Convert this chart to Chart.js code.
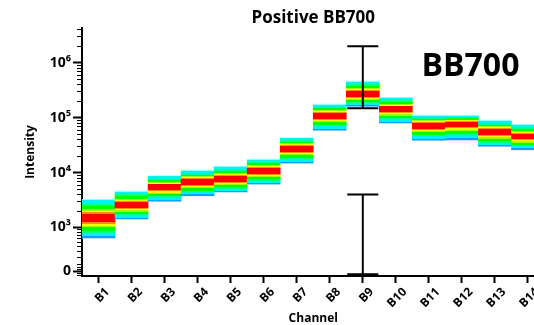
<!DOCTYPE html>
<html>
<head>
<meta charset="utf-8">
<script src="https://cdn.jsdelivr.net/npm/chart.js@4.4.1/dist/chart.umd.min.js"></script>
<style>
  html, body { margin: 0; padding: 0; overflow: hidden; background: #fff; }
  canvas { display: block; }
</style>
</head>
<body>
<canvas id="chart" width="546" height="325" style="width:546px;height:325px"></canvas>
<script>
// Detector channels
const channels = ['B1', 'B2', 'B3', 'B4', 'B5', 'B6', 'B7', 'B8', 'B9', 'B10', 'B11', 'B12', 'B13', 'B14'];

// Spread of the positive population per channel (lower edge, upper edge, density peak)
const bandLow  = [600, 1400, 2950, 3750, 4400, 6100, 14700, 58000, 158000, 79000, 38000, 39000, 29600, 25800];
const bandHigh = [3260, 4600, 8700, 11100, 13200, 17700, 43000, 176000, 463000, 234000, 111000, 111000, 90000, 75500];
const bandPeak = [1480, 2560, 5500, 6800, 7500, 10800, 27700, 111000, 268000, 143000, 73000, 78000, 55000, 46000];

// Range markers on the peak channel
const errChannel = 'B9';
const errUpper = [148000, 1980000];
const errLower = [-45, 4000];

// Intensity axis
const yMin = -68;
const yMax = 4250000;
const yTickValues = [0, 1e3, 1e4, 1e5, 1e6];
const yTickLabels = ['0', '10³', '10⁴', '10⁵', '10⁶'];
const yMinorTicks = [-50, -25, 25, 50, 100, 200, 300, 400, 500, 600, 700, 800, 900,
  2e3, 3e3, 4e3, 5e3, 6e3, 7e3, 8e3, 9e3,
  2e4, 3e4, 4e4, 5e4, 6e4, 7e4, 8e4, 9e4,
  2e5, 3e5, 4e5, 5e5, 6e5, 7e5, 8e5, 9e5,
  2e6, 3e6, 4e6];

const FONT = '"Open Sans", "Noto Sans", sans-serif';

// Biexponential-style (arcsinh) display transform: linear near zero, logarithmic above
const COF = 325;
const biex = v => Math.asinh(v / COF) / Math.LN10;
const biexInv = t => COF * Math.sinh(t * Math.LN10);

class BiexScale extends Chart.Scale {
  determineDataLimits() {
    this.min = this.options.min;
    this.max = this.options.max;
  }
  buildTicks() {
    return yTickValues.map(v => ({ value: v }));
  }
  getLabelForValue(v) {
    return String(v);
  }
  configure() {
    super.configure();
    this._t0 = biex(this.min);
    this._t1 = biex(this.max);
  }
  getPixelForValue(v) {
    return this.getPixelForDecimal((biex(v) - this._t0) / (this._t1 - this._t0));
  }
  getValueForPixel(p) {
    return biexInv(this._t0 + this.getDecimalForPixel(p) * (this._t1 - this._t0));
  }
}
BiexScale.id = 'biex';
BiexScale.defaults = {};
Chart.register(BiexScale);

// Jet-like density stripes, from the peak outward: [distance, colour]
const upperStripes = [[0.22, '#ff0000'], [0.30, '#ff9000'], [0.38, '#ffff00'], [0.47, '#a0ff00'],
  [0.62, '#00ff00'], [0.76, '#00ff90'], [0.95, '#00f5f0'], [1.00, '#90ffff']];
const lowerStripes = [[0.22, '#ff0000'], [0.30, '#ff9000'], [0.38, '#ffff00'], [0.47, '#a0ff00'],
  [0.62, '#00ff00'], [0.73, '#00ff90'], [0.88, '#00f0f0'], [0.97, '#0aa0ff'], [1.00, '#80c8ff']];

function bandFill(context) {
  if (context.type !== 'data') return 'rgba(0,0,0,0)';
  const chart = context.chart;
  const ys = chart.scales.y;
  const i = context.dataIndex;
  const top = ys.getPixelForValue(bandHigh[i]);
  const bot = ys.getPixelForValue(bandLow[i]);
  const pk = ys.getPixelForValue(bandPeak[i]);
  if (!isFinite(top) || !isFinite(bot) || bot - top < 1) return '#ff0000';
  const p = (pk - top) / (bot - top);
  const g = chart.ctx.createLinearGradient(0, top, 0, bot);
  // upper half: edge (0) down to peak (p)
  let prev = 0;
  for (let k = upperStripes.length - 1; k >= 0; k--) {
    const end = k > 0 ? p * (1 - upperStripes[k - 1][0]) : p;
    g.addColorStop(prev, upperStripes[k][1]);
    g.addColorStop(end, upperStripes[k][1]);
    prev = end;
  }
  // lower half: peak (p) down to edge (1)
  let start = p;
  for (let k = 0; k < lowerStripes.length; k++) {
    const end = p + (1 - p) * lowerStripes[k][0];
    g.addColorStop(Math.min(1, start + 1e-6), lowerStripes[k][1]);
    g.addColorStop(Math.min(1, end), lowerStripes[k][1]);
    start = end;
  }
  return g;
}

// Short unlabeled ticks between the decades
const minorTicks = {
  id: 'minorTicks',
  afterDraw(chart) {
    const ys = chart.scales.y, ctx = chart.ctx, x0 = chart.chartArea.left;
    ctx.save();
    ctx.strokeStyle = '#000';
    ctx.lineWidth = 1;
    ctx.beginPath();
    yMinorTicks.forEach(v => {
      const py = Math.round(ys.getPixelForValue(v)) + 0.5;
      ctx.moveTo(x0 - 5, py);
      ctx.lineTo(x0, py);
    });
    ctx.stroke();
    ctx.restore();
  }
};

// Capped range markers
const errorBars = {
  id: 'errorBars',
  afterDatasetsDraw(chart) {
    const xs = chart.scales.x, ys = chart.scales.y, ctx = chart.ctx;
    const cx = xs.getPixelForValue(channels.indexOf(errChannel));
    const half = (xs.width / channels.length) * 0.47;
    ctx.save();
    ctx.strokeStyle = '#000';
    ctx.lineWidth = 2;
    [errUpper, errLower].forEach(([lo, hi]) => {
      const y1 = ys.getPixelForValue(lo), y2 = ys.getPixelForValue(hi);
      ctx.beginPath();
      ctx.moveTo(cx, y1); ctx.lineTo(cx, y2);
      ctx.moveTo(cx - half, y1); ctx.lineTo(cx + half, y1);
      ctx.moveTo(cx - half, y2); ctx.lineTo(cx + half, y2);
      ctx.stroke();
    });
    ctx.restore();
  }
};

// Fluorochrome name in the upper right of the plot
const fluorLabel = {
  id: 'fluorLabel',
  afterDraw(chart) {
    const ctx = chart.ctx, a = chart.chartArea;
    ctx.save();
    ctx.fillStyle = '#000';
    ctx.font = 'bold 32px ' + FONT;
    ctx.textAlign = 'center';
    ctx.textBaseline = 'alphabetic';
    ctx.fillText('BB700', a.right - 74, a.top + 48);
    ctx.restore();
  }
};

new Chart(document.getElementById('chart'), {
  type: 'bar',
  data: {
    labels: channels,
    datasets: [{
      data: channels.map((c, i) => [bandLow[i], bandHigh[i]]),
      backgroundColor: bandFill,
      borderWidth: 0,
      borderSkipped: false,
      barPercentage: 1,
      categoryPercentage: 1
    }]
  },
  options: {
    responsive: false,
    animation: false,
    layout: { padding: { left: 0, right: 1.5, top: 0, bottom: 0 } },
    plugins: {
      legend: { display: false },
      tooltip: { enabled: false },
      title: {
        display: true,
        text: 'Positive BB700',
        color: '#000',
        fullSize: false,
        font: { family: FONT, size: 17, weight: 'bold', lineHeight: 1 },
        padding: { top: 9.5, bottom: 1.5 }
      }
    },
    scales: {
      x: {
        type: 'category',
        offset: true,
        grid: { drawOnChartArea: false, offset: false, tickLength: 7, tickWidth: 2, tickColor: '#000' },
        border: { display: true, color: '#000', width: 2 },
        ticks: {
          color: '#000',
          font: { family: FONT, size: 12, weight: 'bold' },
          minRotation: 45, maxRotation: 45,
          autoSkip: false,
          padding: 2,
          labelOffset: 9
        },
        title: {
          display: true,
          text: 'Channel',
          color: '#000',
          font: { family: FONT, size: 12, weight: 'bold', lineHeight: 1 },
          padding: { top: 0, bottom: 0 }
        },
        afterFit(scale) { scale.height = 49; }
      },
      y: {
        type: 'biex',
        min: yMin,
        max: yMax,
        grid: { drawOnChartArea: false, tickLength: 9, tickWidth: 2, tickColor: '#000' },
        border: { display: true, color: '#000', width: 2 },
        ticks: {
          color: '#000',
          font: { family: FONT, size: 14, weight: 'bold' },
          padding: 2,
          callback: (v, i) => yTickLabels[i]
        },
        title: {
          display: true,
          text: 'Intensity',
          color: '#000',
          font: { family: FONT, size: 12, weight: 'bold', lineHeight: 1 },
          padding: { top: 25, bottom: 0 }
        },
        afterFit(scale) { scale.width = 82; }
      }
    }
  },
  plugins: [minorTicks, errorBars, fluorLabel]
});
</script>
</body>
</html>
